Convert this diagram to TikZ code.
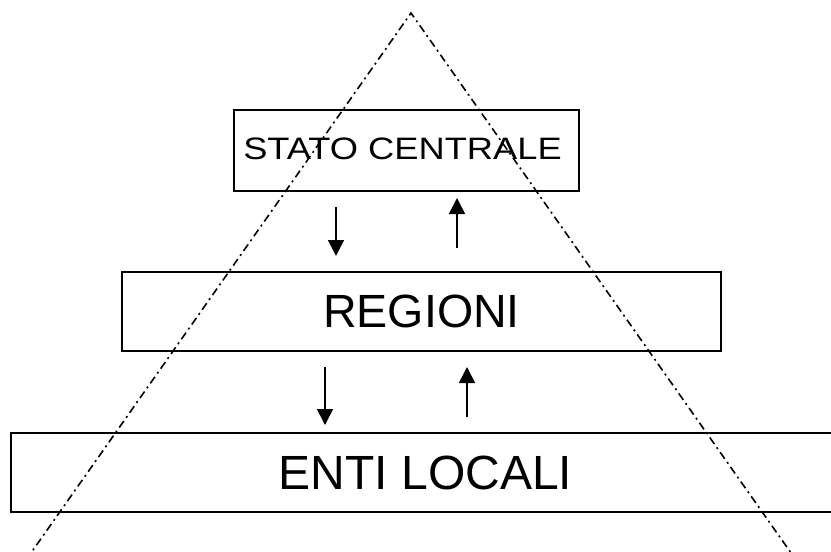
\documentclass[tikz,border=0pt]{standalone}
\usepackage{fontspec}
\setmainfont{Liberation Sans}
\usetikzlibrary{arrows.meta}
\begin{document}
\begin{tikzpicture}[x=1pt,y=-1pt,
  levelbox/.style={draw=black,line width=2pt,inner sep=0pt,anchor=center},
  flow/.style={line width=1.5pt,-{Triangle[width=16pt,length=16pt]}},
  pyr/.style={line width=1.6pt,dash pattern=on 8pt off 4pt on 2pt off 4pt}]
\useasboundingbox (0,0) rectangle (831,552);
\clip (0,0) rectangle (831,552);
\fill[white] (0,0) rectangle (831,552);
% boxes
\node[levelbox,minimum width=345pt,minimum height=81pt] (stato) at (406.5,150.5) {};
\node[font=\fontsize{31}{35}\selectfont,inner sep=0pt] (statotext) at (402.5,148.5) {\scalebox{1.17}[1]{STATO CENTRALE}};
\node[levelbox,minimum width=599pt,minimum height=79pt,font=\fontsize{46.6}{50}\selectfont] (reg) at (421.5,311.5) {REGIONI};
\node[levelbox,minimum width=829pt,minimum height=79pt,font=\fontsize{48}{52}\selectfont] (enti) at (425.5,472.5) {ENTI LOCALI};
% arrow end points
\coordinate (a1s) at (336,207); \coordinate (a1e) at (336,256);
\coordinate (a2s) at (457,248); \coordinate (a2e) at (457,198);
\coordinate (a3s) at (325,367); \coordinate (a3e) at (325,425);
\coordinate (a4s) at (467,417); \coordinate (a4e) at (467,367);
\draw[flow] (a1s) -- (a1e);
\draw[flow] (a2s) -- (a2e);
\draw[flow] (a3s) -- (a3e);
\draw[flow] (a4s) -- (a4e);
% pyramid
\coordinate (apex) at (411,13);
\coordinate (bl) at (26,560);
\coordinate (br) at (796,560);
\draw[pyr] (bl) -- (apex) -- (br);
\end{tikzpicture}
\end{document}
